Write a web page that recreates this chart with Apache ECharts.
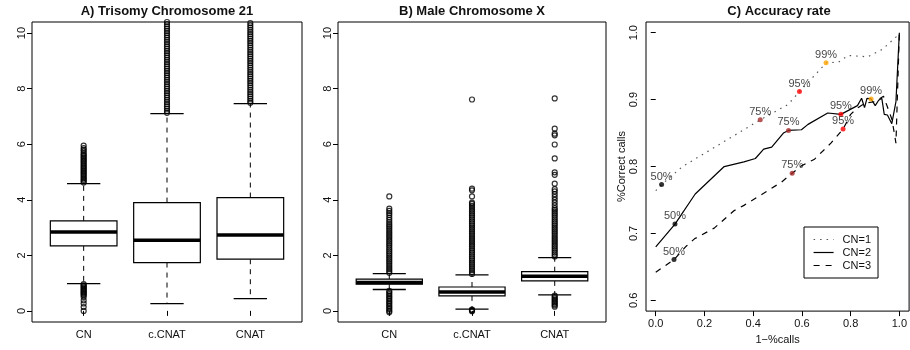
<!DOCTYPE html>
<html>
<head>
<meta charset="utf-8">
<script src="https://cdn.jsdelivr.net/npm/echarts@6/dist/echarts.min.js"></script>
<style>
  html, body { margin: 0; padding: 0; background: #fff; }
  #main { width: 910px; height: 350px; }
</style>
</head>
<body>
<div id="main"></div>
<script>
// categories shared by both box plots
const boxCategories = ['CN', 'c.CNAT', 'CNAT']

// box stats per category: [lower whisker, Q1, median, Q3, upper whisker]
const trisomyStats = [
  [0.98, 2.34, 2.84, 3.24, 4.58],
  [0.26, 1.74, 2.54, 3.90, 7.10],
  [0.44, 1.86, 2.73, 4.08, 7.46]
]
const maleXStats = [
  [0.77, 0.96, 1.02, 1.14, 1.34],
  [0.06, 0.54, 0.68, 0.86, 1.30],
  [0.58, 1.08, 1.25, 1.41, 1.92]
]

// outliers (dense columns listed point by point)
const trisomyOutliers = [
  [0, 0.14, 0.27, 0.38, 0.5, 0.56, 0.6, 0.64, 0.68, 0.72, 0.76, 0.8, 0.84, 0.88, 0.92, 0.96,
   4.62, 4.67, 4.72, 4.77, 4.82, 4.87, 4.92, 4.97, 5.02, 5.07, 5.12, 5.17, 5.22, 5.27, 5.32,
   5.37, 5.42, 5.47, 5.52, 5.57, 5.62, 5.67, 5.74, 5.8, 5.86, 5.95],
  [7.13, 7.2, 7.28, 7.36, 7.44, 7.52, 7.6, 7.68, 7.76, 7.84, 7.92, 8.0, 8.08, 8.16, 8.24, 8.32,
   8.4, 8.48, 8.56, 8.64, 8.72, 8.8, 8.88, 8.96, 9.04, 9.12, 9.2, 9.28, 9.36, 9.44, 9.52, 9.6,
   9.68, 9.76, 9.84, 9.92, 10.0, 10.08, 10.16, 10.24, 10.32, 10.4],
  [7.49, 7.56, 7.64, 7.72, 7.8, 7.88, 7.96, 8.04, 8.12, 8.2, 8.28, 8.36, 8.44, 8.52, 8.6, 8.68,
   8.76, 8.84, 8.92, 9.0, 9.08, 9.16, 9.24, 9.32, 9.4, 9.48, 9.56, 9.64, 9.72, 9.8, 9.88, 9.96,
   10.04, 10.12, 10.2, 10.28, 10.36, 10.44]
]
const maleXOutliers = [
  [-0.05, 0.0, 0.06, 0.12, 0.18, 0.24, 0.3, 0.36, 0.42, 0.48, 0.54, 0.6, 0.66, 0.72,
   1.37, 1.44, 1.51, 1.58, 1.65, 1.72, 1.79, 1.86, 1.93, 2.0, 2.07, 2.14, 2.21, 2.28, 2.35,
   2.42, 2.49, 2.56, 2.63, 2.7, 2.77, 2.84, 2.91, 2.98, 3.05, 3.12, 3.2, 3.28, 3.36, 3.45,
   3.52, 3.6, 3.68, 4.12],
  [-0.01, 0.01, 0.03, 0.05,
   1.33, 1.4, 1.47, 1.54, 1.61, 1.68, 1.75, 1.82, 1.89, 1.96, 2.03, 2.1, 2.17, 2.24, 2.31,
   2.38, 2.45, 2.52, 2.59, 2.66, 2.73, 2.8, 2.87, 2.94, 3.01, 3.08, 3.15, 3.22, 3.29, 3.36,
   3.43, 3.5, 3.57, 3.64, 3.71, 3.78, 3.85, 3.9, 4.12, 4.34, 4.4, 7.61],
  [0.15, 0.2, 0.25, 0.3, 0.35, 0.4, 0.45, 0.5, 0.55,
   1.96, 2.03, 2.1, 2.17, 2.24, 2.31, 2.38, 2.45, 2.52, 2.59, 2.66, 2.73, 2.8, 2.87, 2.94,
   3.01, 3.08, 3.15, 3.22, 3.29, 3.36, 3.43, 3.5, 3.57, 3.64, 3.7, 3.8, 3.9, 4.0, 4.1, 4.2,
   4.3, 4.38, 4.58, 4.9, 4.99, 5.49, 5.99, 6.32, 6.38, 6.56, 7.65]
]

// accuracy curves: [1-%calls, %correct calls]
const accuracyCN1 = [[0, 0.764], [0.024, 0.773], [0.11, 0.80], [0.43, 0.870], [0.544, 0.893],
  [0.59, 0.912], [0.70, 0.955], [0.75, 0.956], [0.79, 0.966], [0.87, 0.964], [0.93, 0.975], [1.0, 0.998]]
const accuracyCN2 = [[0, 0.680], [0.079, 0.714], [0.162, 0.759], [0.281, 0.800], [0.362, 0.807],
  [0.409, 0.812], [0.443, 0.826], [0.476, 0.829], [0.524, 0.850], [0.545, 0.854], [0.598, 0.855],
  [0.625, 0.863], [0.706, 0.880], [0.760, 0.878], [0.828, 0.891], [0.845, 0.902], [0.857, 0.888],
  [0.867, 0.902], [0.884, 0.901], [0.901, 0.891], [0.915, 0.899], [0.928, 0.902], [0.938, 0.878],
  [0.951, 0.877], [0.969, 0.864], [0.986, 0.897], [1.0, 1.0]]
const accuracyCN3 = [[0, 0.642], [0.075, 0.661], [0.125, 0.681], [0.159, 0.692], [0.240, 0.708],
  [0.321, 0.734], [0.362, 0.742], [0.443, 0.760], [0.517, 0.777], [0.560, 0.790], [0.598, 0.801],
  [0.652, 0.811], [0.719, 0.835], [0.769, 0.856], [0.80, 0.878], [0.83, 0.888], [0.86, 0.895],
  [0.90, 0.897], [0.935, 0.905], [0.95, 0.89], [0.97, 0.87], [0.986, 0.835], [1.0, 1.0]]

// threshold marks on each curve
const markLevels = ['50%', '75%', '95%', '99%']
const marksCN1 = [[0.024, 0.773], [0.429, 0.870], [0.590, 0.912], [0.699, 0.955]]
const marksCN2 = [[0.079, 0.714], [0.545, 0.854], [0.760, 0.878], [0.884, 0.901]]
const marksCN3 = [[0.075, 0.661], [0.560, 0.790], [0.769, 0.856]]

const boxTicks = [0, 2, 4, 6, 8, 10]
const accTicksX = [0, 0.2, 0.4, 0.6, 0.8, 1.0]
const accTicksY = [0.6, 0.7, 0.8, 0.9, 1.0]

const levelColors = ['#000000', '#A52A2A', '#FF0000', '#FFA500']
const font = 'Liberation Sans, Arial, sans-serif'
const ink = '#111'

const chart = echarts.init(document.getElementById('main'))

function renderBox(params, api) {
  const x = api.value(0)
  const lo = api.value(1), q1 = api.value(2), med = api.value(3), q3 = api.value(4), hi = api.value(5)
  const tl = api.coord([x - 0.4, q3])
  const br = api.coord([x + 0.4, q1])
  const c = api.coord([x, med])
  const pLo = api.coord([x, lo])
  const pHi = api.coord([x, hi])
  const capL = api.coord([x - 0.2, lo])[0]
  const capR = api.coord([x + 0.2, lo])[0]
  const dash = { stroke: '#000', lineWidth: 1, lineDash: [5, 5] }
  const solid = { stroke: '#000', lineWidth: 1.3 }
  return {
    type: 'group',
    children: [
      { type: 'line', shape: { x1: c[0], y1: tl[1], x2: c[0], y2: pHi[1] }, style: dash },
      { type: 'line', shape: { x1: c[0], y1: br[1], x2: c[0], y2: pLo[1] }, style: dash },
      { type: 'line', shape: { x1: capL, y1: pHi[1], x2: capR, y2: pHi[1] }, style: solid },
      { type: 'line', shape: { x1: capL, y1: pLo[1], x2: capR, y2: pLo[1] }, style: solid },
      { type: 'rect', shape: { x: tl[0], y: tl[1], width: br[0] - tl[0], height: br[1] - tl[1] },
        style: { fill: '#fff', stroke: '#000', lineWidth: 1.2 } },
      { type: 'line', shape: { x1: tl[0], y1: c[1], x2: br[0], y2: c[1] },
        style: { stroke: '#000', lineWidth: 3.5 } }
    ]
  }
}

function boxSeries(idx, stats, outliers) {
  const boxes = {
    type: 'custom',
    xAxisIndex: idx, yAxisIndex: idx,
    renderItem: renderBox,
    encode: { x: 0, y: [1, 2, 3, 4, 5] },
    data: stats.map((s, i) => [i + 1].concat(s)),
    z: 3
  }
  const pts = []
  outliers.forEach((list, i) => list.forEach(v => pts.push([i + 1, v])))
  const dots = {
    type: 'scatter',
    xAxisIndex: idx, yAxisIndex: idx,
    symbol: 'circle', symbolSize: 5,
    itemStyle: { color: 'rgba(0,0,0,0)', borderColor: '#000', borderWidth: 1.2 },
    data: pts,
    clip: true,
    z: 2
  }
  return [boxes, dots]
}

function markSeries(marks) {
  return {
    type: 'scatter',
    xAxisIndex: 2, yAxisIndex: 2,
    symbolSize: 5,
    data: marks.map((p, i) => ({
      value: p,
      name: markLevels[i],
      itemStyle: { color: levelColors[i] }
    })),
    label: {
      show: true, position: 'top', distance: 0,
      formatter: p => p.name,
      fontFamily: font, fontSize: 11, color: '#111'
    },
    z: 5
  }
}

const axisText = { fontFamily: font, fontSize: 11, color: ink }
const tickStyle = { show: true, inside: false, length: 5, lineStyle: { color: '#000' } }

function boxXAxis(idx) {
  return {
    type: 'value', gridIndex: idx, min: 0.38, max: 3.62,
    axisLine: { show: false },
    axisTick: Object.assign({ customValues: [1, 2, 3] }, tickStyle),
    axisLabel: Object.assign({ customValues: [1, 2, 3], margin: 7,
      formatter: v => boxCategories[Math.round(v) - 1] }, axisText),
    splitLine: { show: false }
  }
}
function boxYAxis(idx) {
  return {
    type: 'value', gridIndex: idx, min: -0.4, max: 10.4,
    axisLine: { show: false },
    axisTick: Object.assign({ customValues: boxTicks }, tickStyle),
    axisLabel: Object.assign({ customValues: boxTicks, rotate: 90, margin: 5,
      formatter: v => String(v) }, axisText),
    splitLine: { show: false }
  }
}

const gridBase = { show: true, borderColor: '#000', borderWidth: 1, backgroundColor: 'transparent', containLabel: false }

const option = {
  animation: false,
  backgroundColor: '#fff',
  title: [
    { text: 'A) Trisomy Chromosome 21', left: 167, top: 5 },
    { text: 'B) Male Chromosome X', left: 472, top: 5 },
    { text: 'C) Accuracy rate', left: 779, top: 5 }
  ].map(t => Object.assign(t, {
    textAlign: 'center', padding: 0,
    textStyle: { fontFamily: font, fontSize: 13, fontWeight: 'bold', color: ink }
  })),
  grid: [
    Object.assign({ left: 32, top: 22, width: 270, height: 300 }, gridBase),
    Object.assign({ left: 338, top: 22, width: 268, height: 300 }, gridBase),
    Object.assign({ left: 646, top: 22, width: 267, height: 300 }, gridBase)
  ],
  legend: {
    left: 804, top: 227,
    orient: 'vertical',
    backgroundColor: '#fff',
    borderColor: '#000', borderWidth: 1,
    padding: [7, 7, 7, 9],
    itemWidth: 20, itemHeight: 8, itemGap: 2,
    itemStyle: { opacity: 0 },
    lineStyle: { inherit: true, width: 1.2 },
    textStyle: { fontFamily: font, fontSize: 11, color: ink, padding: [0, 0, 0, 4] },
    data: ['CN=1', 'CN=2', 'CN=3']
  },
  xAxis: [
    boxXAxis(0),
    boxXAxis(1),
    {
      type: 'value', gridIndex: 2, min: -0.04, max: 1.04,
      name: '1\u2212%calls', nameLocation: 'middle', nameGap: 12,
      nameTextStyle: axisText,
      axisLine: { show: false },
      axisTick: Object.assign({ customValues: accTicksX }, tickStyle),
      axisLabel: Object.assign({ customValues: accTicksX, margin: 7,
        formatter: v => v.toFixed(1) }, axisText),
      splitLine: { show: false }
    }
  ],
  yAxis: [
    boxYAxis(0),
    boxYAxis(1),
    {
      type: 'value', gridIndex: 2, min: 0.584, max: 1.016,
      name: '%Correct calls', nameLocation: 'middle', nameGap: 15,
      nameTextStyle: axisText,
      axisLine: { show: false },
      axisTick: Object.assign({ customValues: accTicksY }, tickStyle),
      axisLabel: Object.assign({ customValues: accTicksY, rotate: 90, margin: 7,
        formatter: v => v.toFixed(1) }, axisText),
      splitLine: { show: false }
    }
  ],
  series: [
    ...boxSeries(0, trisomyStats, trisomyOutliers),
    ...boxSeries(1, maleXStats, maleXOutliers),
    {
      name: 'CN=1', type: 'line', xAxisIndex: 2, yAxisIndex: 2,
      data: accuracyCN1, showSymbol: false, symbol: 'none',
      lineStyle: { color: '#555', width: 1.2, type: [1.5, 5] },
      itemStyle: { color: '#555' }
    },
    {
      name: 'CN=2', type: 'line', xAxisIndex: 2, yAxisIndex: 2,
      data: accuracyCN2, showSymbol: false, symbol: 'none',
      lineStyle: { color: '#000', width: 1.2, type: 'solid' },
      itemStyle: { color: '#000' }
    },
    {
      name: 'CN=3', type: 'line', xAxisIndex: 2, yAxisIndex: 2,
      data: accuracyCN3, showSymbol: false, symbol: 'none',
      lineStyle: { color: '#000', width: 1.2, type: [6, 6] },
      itemStyle: { color: '#000' }
    },
    markSeries(marksCN1),
    markSeries(marksCN2),
    markSeries(marksCN3)
  ]
}

chart.setOption(option)
</script>
</body>
</html>
